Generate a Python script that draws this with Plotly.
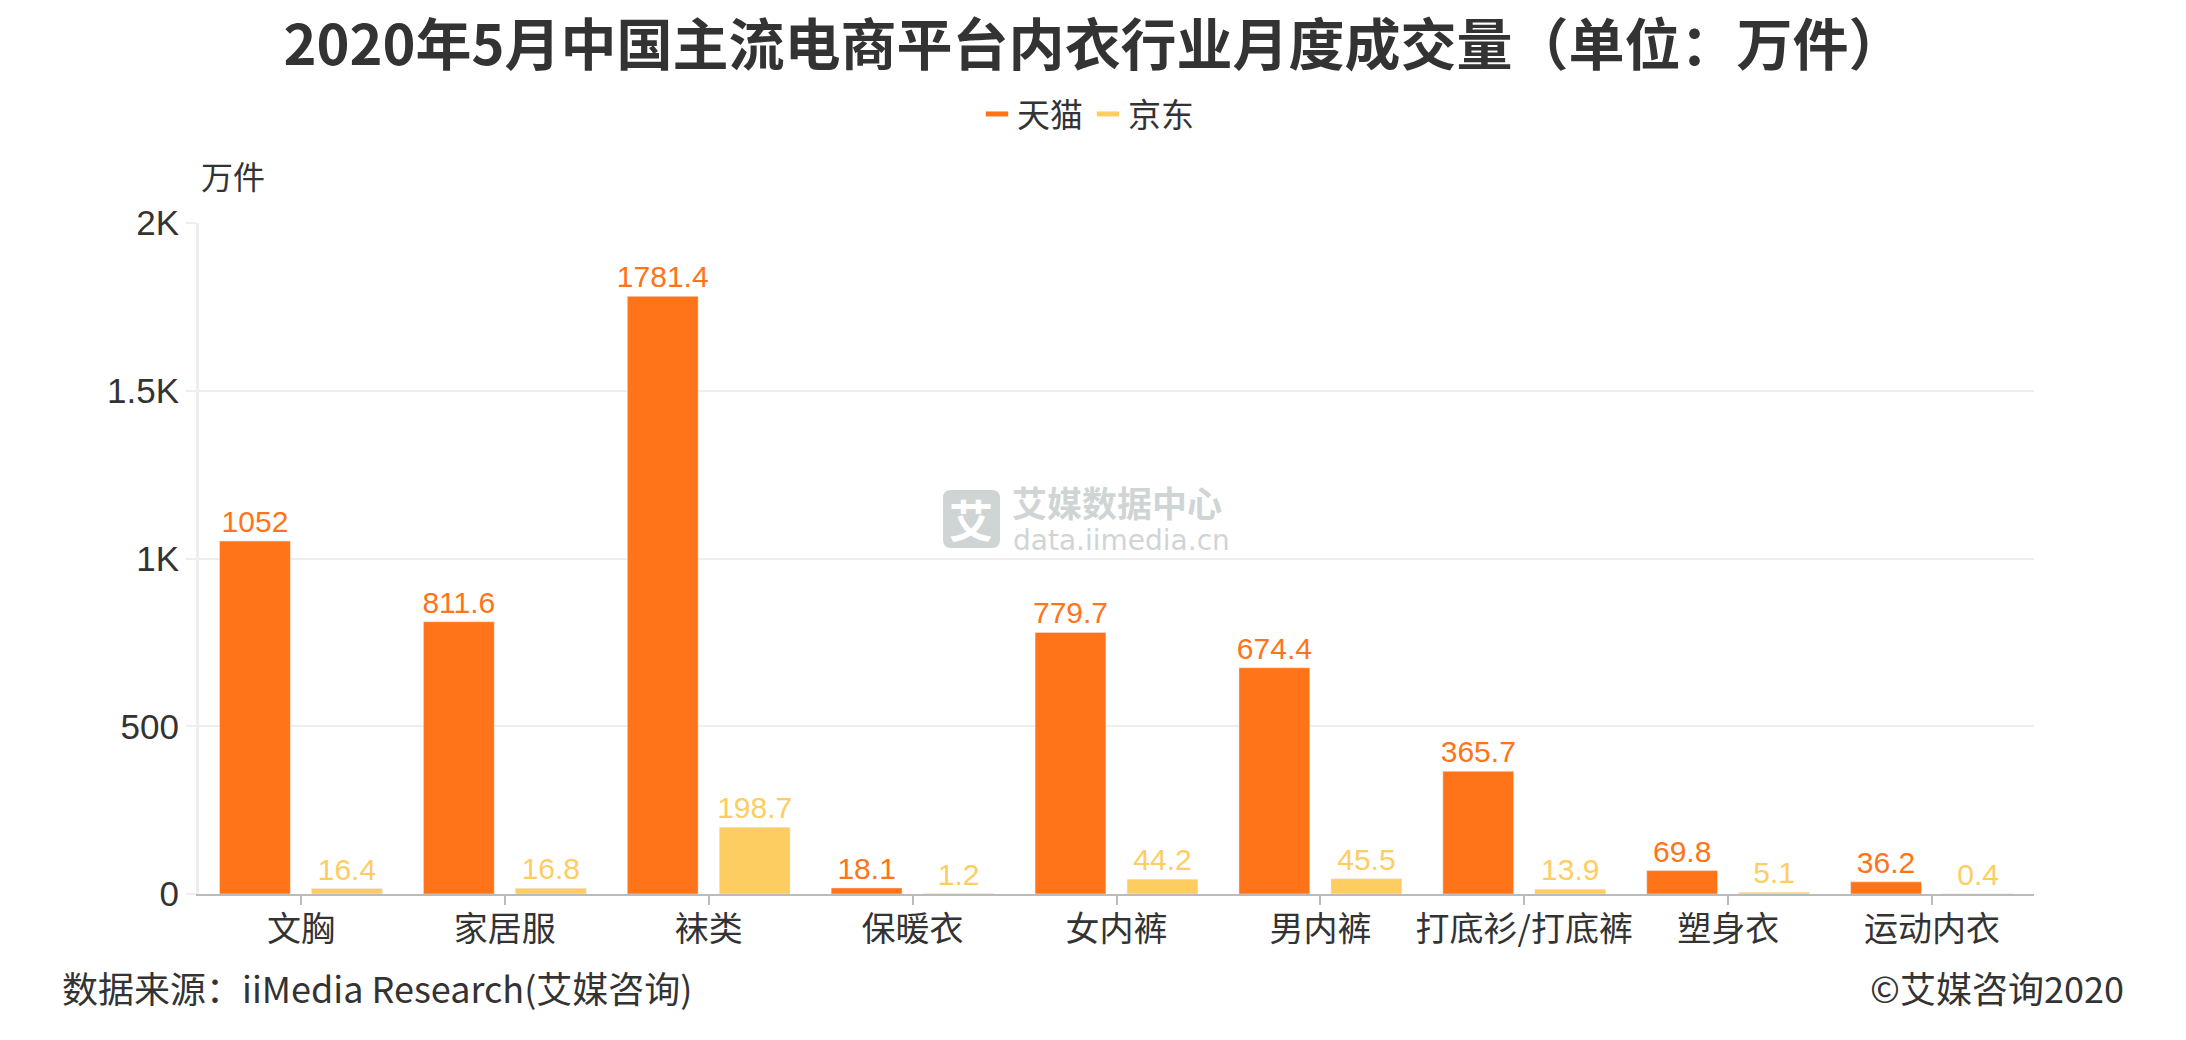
import plotly.graph_objects as go

# ---------------- data ----------------
categories = ["文胸", "家居服", "袜类", "保暖衣", "女内裤", "男内裤", "打底衫/打底裤", "塑身衣", "运动内衣"]
tmall_values = [1052, 811.6, 1781.4, 18.1, 779.7, 674.4, 365.7, 69.8, 36.2]
jd_values = [16.4, 16.8, 198.7, 1.2, 44.2, 45.5, 13.9, 5.1, 0.4]
series_names = ["天猫", "京东"]
y_tickvals = [0, 500, 1000, 1500, 2000]
y_ticktext = ["0", "500", "1K", "1.5K", "2K"]

title_text = "2020年5月中国主流电商平台内衣行业月度成交量（单位：万件）"
source_text = "数据来源：iiMedia Research(艾媒咨询)"
copyright_text = "©艾媒咨询2020"
unit_text = "万件"

# ---------------- style ----------------
W, H = 2186, 1040
L, R, T, B = 199, 2034, 223, 894  # page pixels of plot area
ORANGE = "#FF7419"
YELLOW = "#FECD62"
TEXT = "#333333"
WM = "#cfd5d5"
FONT = "Liberation Sans, Noto Sans CJK SC, sans-serif"
CJK = "Noto Sans CJK SC, sans-serif"


def px2x(px):
    return (px - L) / (R - L)


def py2y(py):
    return (B - py) / (B - T)


def fmt(v):
    return ("%g" % v)


fig = go.Figure()
fig.add_trace(go.Bar(
    x=categories, y=tmall_values, name=series_names[0], marker_color=ORANGE,
    text=[fmt(v) for v in tmall_values], textposition="outside",
    textfont=dict(color=ORANGE, size=30, family=FONT), constraintext="none",
    cliponaxis=False, showlegend=False,
))
fig.add_trace(go.Bar(
    x=categories, y=jd_values, name=series_names[1], marker_color=YELLOW,
    text=[fmt(v) for v in jd_values], textposition="outside",
    textfont=dict(color=YELLOW, size=30, family=FONT), constraintext="none",
    cliponaxis=False, showlegend=False,
))
# legend entries
for nm, col in zip(series_names, [ORANGE, YELLOW]):
    fig.add_trace(go.Scatter(
        x=[None], y=[None], mode="markers", name=nm,
        marker=dict(symbol="line-ew", size=16, line=dict(color=col, width=7)),
    ))

annotations = [
    dict(text=unit_text, x=px2x(199), y=py2y(175), xref="paper", yref="paper",
         xanchor="left", yanchor="middle", showarrow=False,
         font=dict(size=32, color=TEXT, family=CJK)),
    dict(text=source_text, x=px2x(60), y=py2y(987), xref="paper", yref="paper",
         xanchor="left", yanchor="middle", showarrow=False,
         font=dict(size=36, color=TEXT, family=CJK)),
    dict(text=copyright_text, x=px2x(2126), y=py2y(987), xref="paper", yref="paper",
         xanchor="right", yanchor="middle", showarrow=False,
         font=dict(size=36, color=TEXT, family=CJK)),
    # watermark
    dict(text="<b>艾</b>", x=px2x(971), y=py2y(519), xref="paper", yref="paper",
         xanchor="center", yanchor="middle", showarrow=False,
         font=dict(size=44, color="white", family=CJK)),
    dict(text="<b>艾媒数据中心</b>", x=px2x(1010), y=py2y(501), xref="paper", yref="paper",
         xanchor="left", yanchor="middle", showarrow=False,
         font=dict(size=35, color=WM, family=CJK)),
    dict(text="data.iimedia.cn", x=px2x(1011), y=py2y(540), xref="paper", yref="paper",
         xanchor="left", yanchor="middle", showarrow=False,
         font=dict(size=28, color=WM, family="DejaVu Sans, sans-serif")),
]

# rounded watermark box
bx0, bx1, by0, by1, rr = 943, 1000, 490, 548, 8
def P(px, py):
    return "%.5f,%.5f" % (px2x(px), py2y(py))
path = ("M " + P(bx0 + rr, by0) + " L " + P(bx1 - rr, by0) + " Q " + P(bx1, by0) + " " + P(bx1, by0 + rr) +
        " L " + P(bx1, by1 - rr) + " Q " + P(bx1, by1) + " " + P(bx1 - rr, by1) +
        " L " + P(bx0 + rr, by1) + " Q " + P(bx0, by1) + " " + P(bx0, by1 - rr) +
        " L " + P(bx0, by0 + rr) + " Q " + P(bx0, by0) + " " + P(bx0 + rr, by0) + " Z")

fig.update_layout(
    width=W, height=H,
    margin=dict(l=L, r=W - R, t=T, b=H - B, pad=0),
    paper_bgcolor="white", plot_bgcolor="white",
    barmode="group", bargap=0.0976, bargroupgap=0.23,
    font=dict(family=FONT, color=TEXT),
    title=dict(text="<b>" + title_text + "</b>", x=1094 / W, xanchor="center",
               y=1 - 45 / H, yanchor="middle", yref="container",
               font=dict(size=56, color=TEXT, family=CJK)),
    legend=dict(orientation="h", x=px2x(1088), xanchor="center",
                y=py2y(114), yanchor="middle", font=dict(size=33, color=TEXT, family=CJK),
                itemwidth=30, tracegroupgap=0, bgcolor="rgba(0,0,0,0)"),
    xaxis=dict(showline=True, linecolor="#bbbbbb", linewidth=2, ticks="outside",
               ticklen=9, tickcolor="#bbbbbb", tickwidth=2, showgrid=False,
               ticklabelstandoff=-5,
               tickfont=dict(size=34, color=TEXT, family=CJK), fixedrange=True),
    yaxis=dict(range=[0, 2000], tickvals=y_tickvals, ticktext=y_ticktext,
               showgrid=True, gridcolor="#eeeeee", gridwidth=2, zeroline=False,
               showline=True, linecolor="#eeeeee", linewidth=3,
               ticks="outside", ticklen=10, tickcolor="#eeeeee", tickwidth=2,
               tickfont=dict(size=35, color=TEXT, family=FONT)),
    annotations=annotations,
    shapes=[dict(type="path", path=path, xref="paper", yref="paper",
                 fillcolor=WM, line=dict(width=0), layer="above")],
)

fig.write_html("out.html", config={"displayModeBar": False},
               post_script="document.body.style.margin='0';document.body.style.overflow='hidden';")
